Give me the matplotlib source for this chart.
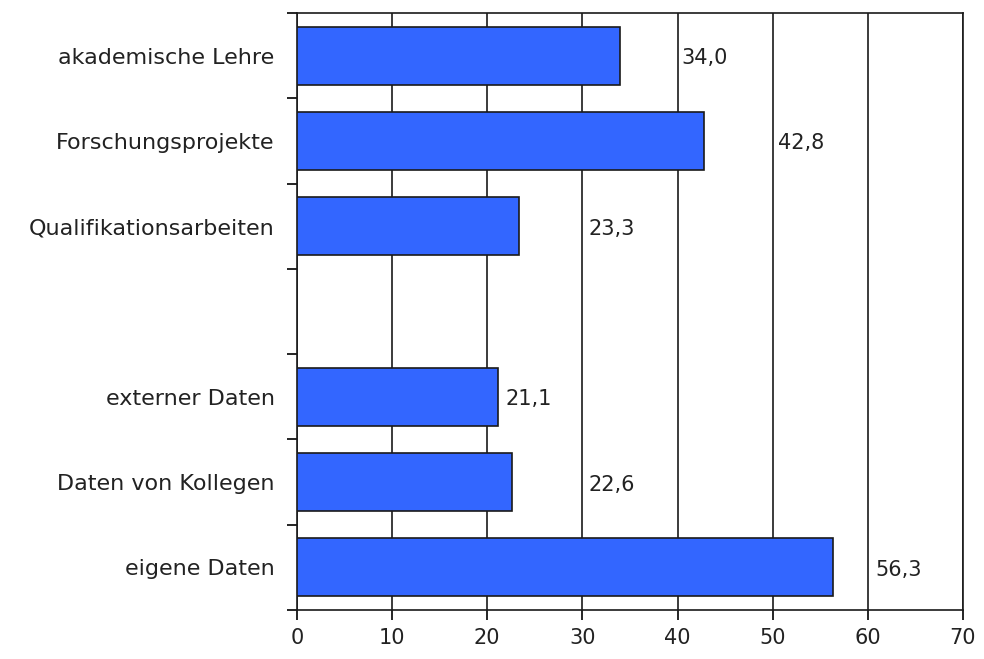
import matplotlib.pyplot as plt

# categories from bottom to top, empty slot separates the two groups
categories = ["eigene Daten", "Daten von Kollegen", "externer Daten", "",
              "Qualifikationsarbeiten", "Forschungsprojekte", "akademische Lehre"]
values = [56.3, 22.6, 21.1, None, 23.3, 42.8, 34.0]
# x position (data units) where each value label starts
label_x = [60.8, 30.6, 21.9, None, 30.6, 50.6, 40.4]

plt.rcParams['font.family'] = ['DejaVu Sans']
fs = 15

fig = plt.figure(figsize=(9.84, 6.59), dpi=100)
ax = fig.add_axes([0.3018, 0.0744, 0.6768, 0.9059])

pos = [i for i, v in enumerate(values) if v is not None]
vals = [v for v in values if v is not None]
ax.barh(pos, vals, height=0.68, color='#3366ff', edgecolor='#1a1a1a',
        linewidth=1.2, zorder=3)

for i, v in enumerate(values):
    if v is None:
        continue
    ax.text(label_x[i], i - 0.03, f"{v:.1f}".replace('.', ','), va='center',
            ha='left', fontsize=fs, color='#222222', zorder=4)

ax.set_xlim(0, 70)
ax.set_ylim(-0.5, len(categories) - 0.5)
ax.set_xticks(range(0, 71, 10))
ax.set_yticks([i - 0.5 for i in range(len(categories) + 1)])
ax.set_yticklabels([])
ax.set_yticks(range(len(categories)), minor=True)
ax.set_yticklabels(categories, minor=True, fontsize=16, color='#222222')
ax.tick_params(axis='y', which='minor', length=0, pad=16)
ax.tick_params(axis='y', which='major', length=7, width=1.2, direction='out')
ax.tick_params(axis='x', length=7, width=1.2, direction='out', pad=6,
               labelsize=fs, labelcolor='#222222')

ax.grid(axis='x', color='#1a1a1a', linewidth=1.2, zorder=1)
for s in ax.spines.values():
    s.set_color('#1a1a1a')
    s.set_linewidth(1.2)

fig.savefig('out.png', dpi=100)
